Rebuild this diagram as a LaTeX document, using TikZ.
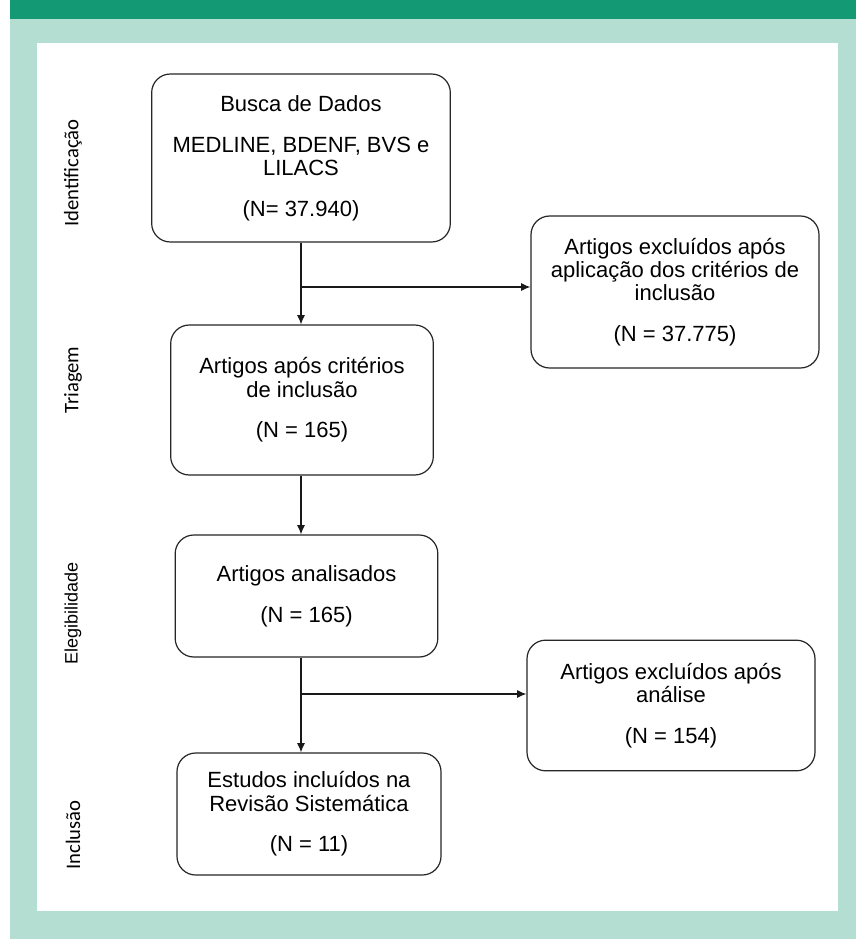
\documentclass[tikz,border=0pt]{standalone}
\usepackage{fontspec}
\setmainfont{Liberation Sans}
\newfontfamily\carlito{Carlito}
\usepackage{tikz}
\usetikzlibrary{calc}
\usetikzlibrary{positioning}
\usetikzlibrary{arrows.meta}
\definecolor{verdeescuro}{RGB}{19,154,116}
\definecolor{verdeclaro}{RGB}{180,222,209}
\tikzset{
	caixa/.style={draw=black!85,line width=0.9pt,rounded corners=14pt,fill=white,align=center,inner sep=0pt,font=\fontsize{16.5}{17.5}\selectfont},
	etapa/.style={rotate=90,font=\carlito\fontsize{15.5}{17}\selectfont},
	seta/.style={->,>={Latex[length=7pt,width=6pt]},line width=0.9pt,draw=black!90}
}

\begin{document}
\begin{tikzpicture}[x=0.75pt,y=-0.75pt]
	%fundo
	\useasboundingbox (0,0) rectangle (856,939);
	\fill[verdeclaro] (10,19) rectangle (856,939);
	\fill[verdeescuro] (10,0) rectangle (856,19);
	\fill[white] (37,43) rectangle (838,911);
	
	%etapas
	\node[etapa] (L_ident) at (73,173) {Identificação};
	\node[etapa] (L_triag) at (73,380) {Triagem};
	\node[etapa,font=\fontsize{13.5}{15}\selectfont] (L_eleg) at (73,613) {Elegibilidade};
	\node[etapa] (L_incl) at (73,835) {Inclusão};
	
	%caixas
	\node[caixa,minimum width=224pt,minimum height=126pt] (busca) at (301,158) {Busca de Dados\\[13pt]MEDLINE, BDENF, BVS e\\LILACS\\[13pt](N= 37.940)};
	\node[caixa,minimum width=216pt,minimum height=114pt] (excl1) at (675,292) {Artigos excluídos após\\aplicação dos critérios de\\inclusão\\[13pt](N = 37.775)};
	\node[caixa,minimum width=197pt,minimum height=112.5pt] (apos) at (302,400) {Artigos após critérios\\de inclusão\\[13pt](N = 165)};
	\node[caixa,minimum width=197pt,minimum height=91.5pt] (analis) at (306.5,596) {Artigos analisados\\[13pt](N = 165)};
	\node[caixa,minimum width=216pt,minimum height=98pt] (excl2) at (671,705.5) {Artigos excluídos após\\análise\\[13pt](N = 154)};
	\node[caixa,minimum width=198pt,minimum height=91.5pt] (estud) at (309,814) {Estudos incluídos na\\Revisão Sistemática\\[13pt](N = 11)};
	
	%setas
	\coordinate (j1) at (301,287);
	\coordinate (j2) at (301,694);
	\draw[seta] (busca.south -| j1) -- (apos.north -| j1);
	\draw[seta] (j1) -- (j1 -| excl1.west);
	\draw[seta] (apos.south -| j1) -- (analis.north -| j1);
	\draw[seta] (analis.south -| j2) -- (estud.north -| j2);
	\draw[seta] (j2) -- (j2 -| excl2.west);
\end{tikzpicture}
\end{document}
